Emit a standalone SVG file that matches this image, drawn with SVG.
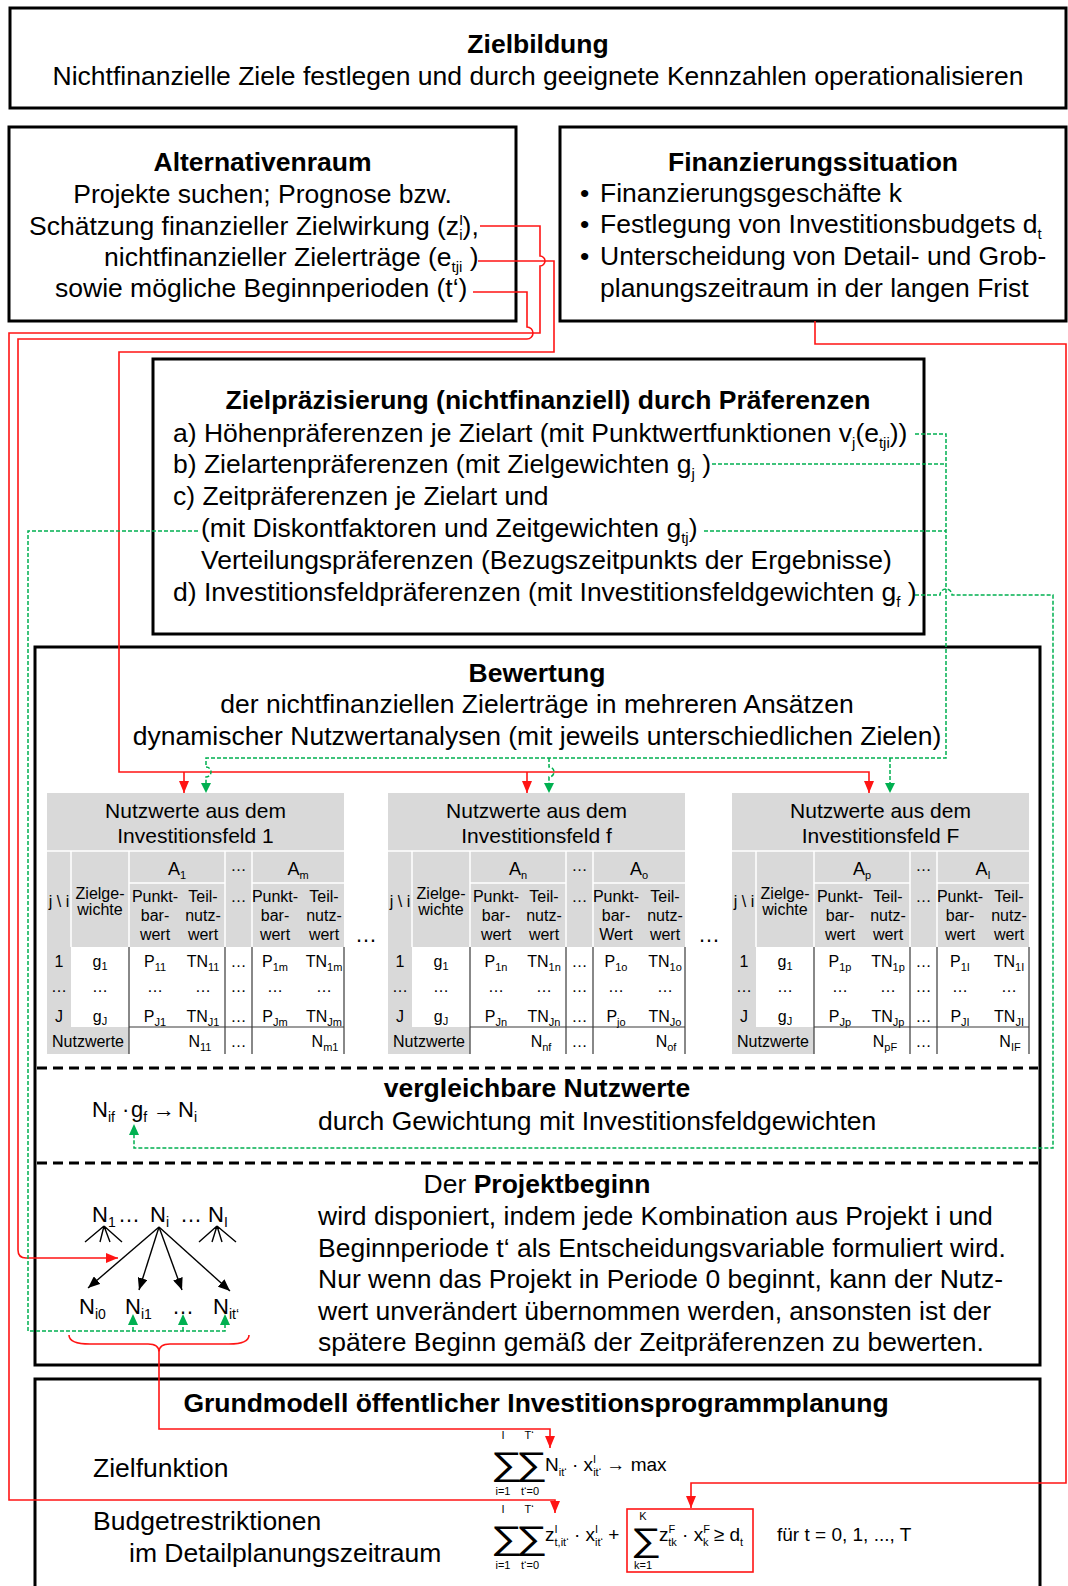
<svg xmlns="http://www.w3.org/2000/svg" width="1068" height="1586" viewBox="0 0 1068 1586">
<defs>
<style>
text{font-family:"Liberation Sans",Arial,sans-serif;fill:#000}
.t{font-size:26.5px}
.b{font-weight:bold}
.m{text-anchor:middle}
.s{font-size:15px}
.box{fill:#fff;stroke:#000;stroke-width:3}
.sep{fill:none;stroke:#000;stroke-width:3;stroke-dasharray:10 6}
.red{fill:none;stroke:#ff1414;stroke-width:1.6}
.grn{fill:none;stroke:#00b050;stroke-width:1.5;stroke-dasharray:4 2}
.blk{fill:none;stroke:#000;stroke-width:1.4}
.gray{fill:#d9d9d9}
.wl{stroke:#fff;stroke-width:1.5}
.dl{stroke:#3a3a3a;stroke-width:1.2}
.th{font-size:21px}
.tc{font-size:16px}
.ts{font-size:11px}
.ta{font-size:18px}
.f{font-size:19px}
.fs{font-size:11px}
.sum{font-size:33px}
.n{font-size:22px}
.ns{font-size:14px}
</style>
<marker id="ar" viewBox="0 0 12 10" refX="12" refY="5" markerWidth="12" markerHeight="10" markerUnits="userSpaceOnUse" orient="auto"><path d="M0,0 L12,5 L0,10 z" fill="#ff1414"/></marker>
<marker id="ab" viewBox="0 0 12 10" refX="12" refY="5" markerWidth="12" markerHeight="10" markerUnits="userSpaceOnUse" orient="auto"><path d="M0,0 L12,5 L0,10 z" fill="#000"/></marker>
</defs>
<rect width="1068" height="1586" fill="#fff"/>

<!-- Zielbildung -->
<g id="zielbildung">
<rect class="box" x="10" y="8" width="1056" height="100"/>
<text class="t b m" x="538" y="53">Zielbildung</text>
<text class="t m" x="538" y="85">Nichtfinanzielle Ziele festlegen und durch geeignete Kennzahlen operationalisieren</text>
</g>

<!-- Alternativenraum -->
<g id="alternativenraum">
<rect class="box" x="9" y="127" width="507" height="194"/>
<text class="t b m" x="262.5" y="171">Alternativenraum</text>
<text class="t m" x="262.5" y="203">Projekte suchen; Prognose bzw.</text>
<text class="t" x="29" y="235">Schätzung finanzieller Zielwirkung (z<tspan class="s" dy="-10">I</tspan><tspan class="s" dx="-4" dy="15">i</tspan><tspan dy="-5">),</tspan></text>
<text class="t" x="104" y="266">nichtfinanzieller Zielerträge (e<tspan class="s" dy="6">tji</tspan><tspan dy="-6"> )</tspan></text>
<text class="t" x="55" y="297">sowie mögliche Beginnperioden (t‘)</text>
</g>

<!-- Finanzierungssituation -->
<g id="finanzierungssituation">
<rect class="box" x="560" y="127" width="506" height="194"/>
<text class="t b m" x="813" y="171">Finanzierungssituation</text>
<text class="t" x="580" y="202">•</text>
<text class="t" x="600" y="202">Finanzierungsgeschäfte k</text>
<text class="t" x="580" y="233">•</text>
<text class="t" x="600" y="233">Festlegung von Investitionsbudgets d<tspan class="s" dy="6">t</tspan></text>
<text class="t" x="580" y="265">•</text>
<text class="t" x="600" y="265">Unterscheidung von Detail- und Grob-</text>
<text class="t" x="600" y="297">planungszeitraum in der langen Frist</text>
</g>

<!-- Zielpräzisierung -->
<g id="zielpraezisierung">
<rect class="box" x="153" y="359" width="771" height="275"/>
<text class="t b m" x="548" y="409">Zielpräzisierung (nichtfinanziell) durch Präferenzen</text>
<text class="t" x="173" y="442">a) Höhenpräferenzen je Zielart (mit Punktwertfunktionen v<tspan class="s" dy="6">j</tspan><tspan dy="-6">(e</tspan><tspan class="s" dy="6">tji</tspan><tspan dy="-6">))</tspan></text>
<text class="t" x="173" y="473">b) Zielartenpräferenzen (mit Zielgewichten g<tspan class="s" dy="6">j</tspan><tspan dy="-6"> )</tspan></text>
<text class="t" x="173" y="505">c) Zeitpräferenzen je Zielart und</text>
<text class="t" x="201" y="537">(mit Diskontfaktoren und Zeitgewichten g<tspan class="s" dy="6">tj</tspan><tspan dy="-6">)</tspan></text>
<text class="t" x="201" y="569">Verteilungspräferenzen (Bezugszeitpunkts der Ergebnisse)</text>
<text class="t" x="173" y="601">d) Investitionsfeldpräferenzen (mit Investitionsfeldgewichten g<tspan class="s" dy="6">f</tspan><tspan dy="-6"> )</tspan></text>
</g>

<!-- Bewertung with its three sections -->
<g id="bewertung">
<rect class="box" x="35" y="647" width="1005" height="718"/>
<text class="t b m" x="537" y="682">Bewertung</text>
<text class="t m" x="537" y="713">der nichtfinanziellen Zielerträge in mehreren Ansätzen</text>
<text class="t m" x="537" y="745">dynamischer Nutzwertanalysen (mit jeweils unterschiedlichen Zielen)</text>
<text class="m" font-size="22" x="366" y="942">…</text>
<text class="m" font-size="22" x="709" y="942">…</text>
<path class="sep" d="M37,1068H1038 M37,1163H1038"/>
</g>

<!-- Table: Investitionsfeld 1 -->
<g id="tabelle-feld-1" transform="translate(47,0)">
<rect class="gray" x="0" y="793" width="297" height="154"/>
<rect class="gray" x="0" y="947" width="24" height="80"/>
<rect class="gray" x="0" y="1027" width="82" height="27"/>
<path class="wl" d="M0,851H297 M24,851V947 M82,851V947 M178,851V947 M205,851V947 M82,883H178 M205,883H297"/>
<path class="dl" d="M82,947V1054 M178,947V1054 M205,947V1054 M297,947V1054 M82,1027H297"/>
<text class="th m" x="148.5" y="818">Nutzwerte aus dem</text>
<text class="th m" x="148.5" y="843">Investitionsfeld 1</text>
<text class="ta m" x="130" y="875">A<tspan class="ts" dy="4">1</tspan></text>
<text class="tc m" x="191.5" y="871">…</text>
<text class="ta m" x="251" y="875">A<tspan class="ts" dy="4">m</tspan></text>
<text class="tc m" x="12" y="907">j \ i</text>
<text class="tc m" x="53" y="899">Zielge-</text><text class="tc m" x="53" y="915">wichte</text>
<text class="tc m" x="108" y="902">Punkt-</text><text class="tc m" x="108" y="921">bar-</text><text class="tc m" x="108" y="940">wert</text>
<text class="tc m" x="156" y="902">Teil-</text><text class="tc m" x="156" y="921">nutz-</text><text class="tc m" x="156" y="940">wert</text>
<text class="tc m" x="191.5" y="902">…</text>
<text class="tc m" x="228" y="902">Punkt-</text><text class="tc m" x="228" y="921">bar-</text><text class="tc m" x="228" y="940">wert</text>
<text class="tc m" x="277" y="902">Teil-</text><text class="tc m" x="277" y="921">nutz-</text><text class="tc m" x="277" y="940">wert</text>
<text class="tc m" x="12" y="967">1</text>
<text class="tc m" x="53" y="967">g<tspan class="ts" dy="3">1</tspan></text>
<text class="tc m" x="108" y="967">P<tspan class="ts" dy="4">11</tspan></text>
<text class="tc m" x="156" y="967">TN<tspan class="ts" dy="4">11</tspan></text>
<text class="tc m" x="191.5" y="967">…</text>
<text class="tc m" x="228" y="967">P<tspan class="ts" dy="4">1m</tspan></text>
<text class="tc m" x="277" y="967">TN<tspan class="ts" dy="4">1m</tspan></text>
<text class="tc m" x="12" y="992">…</text><text class="tc m" x="53" y="992">…</text><text class="tc m" x="108" y="992">…</text><text class="tc m" x="156" y="992">…</text><text class="tc m" x="191.5" y="992">…</text><text class="tc m" x="228" y="992">…</text><text class="tc m" x="277" y="992">…</text>
<text class="tc m" x="12" y="1022">J</text>
<text class="tc m" x="53" y="1022">g<tspan class="ts" dy="3">J</tspan></text>
<text class="tc m" x="108" y="1022">P<tspan class="ts" dy="4">J1</tspan></text>
<text class="tc m" x="156" y="1022">TN<tspan class="ts" dy="4">J1</tspan></text>
<text class="tc m" x="191.5" y="1022">…</text>
<text class="tc m" x="228" y="1022">P<tspan class="ts" dy="4">Jm</tspan></text>
<text class="tc m" x="277" y="1022">TN<tspan class="ts" dy="4">Jm</tspan></text>
<text class="tc m" x="41" y="1047">Nutzwerte</text>
<text class="tc m" x="153" y="1047">N<tspan class="ts" dy="4">11</tspan></text>
<text class="tc m" x="191.5" y="1047">…</text>
<text class="tc m" x="278" y="1047">N<tspan class="ts" dy="4">m1</tspan></text>
</g>

<!-- Table: Investitionsfeld f -->
<g id="tabelle-feld-f" transform="translate(388,0)">
<rect class="gray" x="0" y="793" width="297" height="154"/>
<rect class="gray" x="0" y="947" width="24" height="80"/>
<rect class="gray" x="0" y="1027" width="82" height="27"/>
<path class="wl" d="M0,851H297 M24,851V947 M82,851V947 M178,851V947 M205,851V947 M82,883H178 M205,883H297"/>
<path class="dl" d="M82,947V1054 M178,947V1054 M205,947V1054 M297,947V1054 M82,1027H297"/>
<text class="th m" x="148.5" y="818">Nutzwerte aus dem</text>
<text class="th m" x="148.5" y="843">Investitionsfeld f</text>
<text class="ta m" x="130" y="875">A<tspan class="ts" dy="4">n</tspan></text>
<text class="tc m" x="191.5" y="871">…</text>
<text class="ta m" x="251" y="875">A<tspan class="ts" dy="4">o</tspan></text>
<text class="tc m" x="12" y="907">j \ i</text>
<text class="tc m" x="53" y="899">Zielge-</text><text class="tc m" x="53" y="915">wichte</text>
<text class="tc m" x="108" y="902">Punkt-</text><text class="tc m" x="108" y="921">bar-</text><text class="tc m" x="108" y="940">wert</text>
<text class="tc m" x="156" y="902">Teil-</text><text class="tc m" x="156" y="921">nutz-</text><text class="tc m" x="156" y="940">wert</text>
<text class="tc m" x="191.5" y="902">…</text>
<text class="tc m" x="228" y="902">Punkt-</text><text class="tc m" x="228" y="921">bar-</text><text class="tc m" x="228" y="940">Wert</text>
<text class="tc m" x="277" y="902">Teil-</text><text class="tc m" x="277" y="921">nutz-</text><text class="tc m" x="277" y="940">wert</text>
<text class="tc m" x="12" y="967">1</text>
<text class="tc m" x="53" y="967">g<tspan class="ts" dy="3">1</tspan></text>
<text class="tc m" x="108" y="967">P<tspan class="ts" dy="4">1n</tspan></text>
<text class="tc m" x="156" y="967">TN<tspan class="ts" dy="4">1n</tspan></text>
<text class="tc m" x="191.5" y="967">…</text>
<text class="tc m" x="228" y="967">P<tspan class="ts" dy="4">1o</tspan></text>
<text class="tc m" x="277" y="967">TN<tspan class="ts" dy="4">1o</tspan></text>
<text class="tc m" x="12" y="992">…</text><text class="tc m" x="53" y="992">…</text><text class="tc m" x="108" y="992">…</text><text class="tc m" x="156" y="992">…</text><text class="tc m" x="191.5" y="992">…</text><text class="tc m" x="228" y="992">…</text><text class="tc m" x="277" y="992">…</text>
<text class="tc m" x="12" y="1022">J</text>
<text class="tc m" x="53" y="1022">g<tspan class="ts" dy="3">J</tspan></text>
<text class="tc m" x="108" y="1022">P<tspan class="ts" dy="4">Jn</tspan></text>
<text class="tc m" x="156" y="1022">TN<tspan class="ts" dy="4">Jn</tspan></text>
<text class="tc m" x="191.5" y="1022">…</text>
<text class="tc m" x="228" y="1022">P<tspan class="ts" dy="4">jo</tspan></text>
<text class="tc m" x="277" y="1022">TN<tspan class="ts" dy="4">Jo</tspan></text>
<text class="tc m" x="41" y="1047">Nutzwerte</text>
<text class="tc m" x="153" y="1047">N<tspan class="ts" dy="4">nf</tspan></text>
<text class="tc m" x="191.5" y="1047">…</text>
<text class="tc m" x="278" y="1047">N<tspan class="ts" dy="4">of</tspan></text>
</g>

<!-- Table: Investitionsfeld F -->
<g id="tabelle-feld-F" transform="translate(732,0)">
<rect class="gray" x="0" y="793" width="297" height="154"/>
<rect class="gray" x="0" y="947" width="24" height="80"/>
<rect class="gray" x="0" y="1027" width="82" height="27"/>
<path class="wl" d="M0,851H297 M24,851V947 M82,851V947 M178,851V947 M205,851V947 M82,883H178 M205,883H297"/>
<path class="dl" d="M82,947V1054 M178,947V1054 M205,947V1054 M297,947V1054 M82,1027H297"/>
<text class="th m" x="148.5" y="818">Nutzwerte aus dem</text>
<text class="th m" x="148.5" y="843">Investitionsfeld F</text>
<text class="ta m" x="130" y="875">A<tspan class="ts" dy="4">p</tspan></text>
<text class="tc m" x="191.5" y="871">…</text>
<text class="ta m" x="251" y="875">A<tspan class="ts" dy="4">I</tspan></text>
<text class="tc m" x="12" y="907">j \ i</text>
<text class="tc m" x="53" y="899">Zielge-</text><text class="tc m" x="53" y="915">wichte</text>
<text class="tc m" x="108" y="902">Punkt-</text><text class="tc m" x="108" y="921">bar-</text><text class="tc m" x="108" y="940">wert</text>
<text class="tc m" x="156" y="902">Teil-</text><text class="tc m" x="156" y="921">nutz-</text><text class="tc m" x="156" y="940">wert</text>
<text class="tc m" x="191.5" y="902">…</text>
<text class="tc m" x="228" y="902">Punkt-</text><text class="tc m" x="228" y="921">bar-</text><text class="tc m" x="228" y="940">wert</text>
<text class="tc m" x="277" y="902">Teil-</text><text class="tc m" x="277" y="921">nutz-</text><text class="tc m" x="277" y="940">wert</text>
<text class="tc m" x="12" y="967">1</text>
<text class="tc m" x="53" y="967">g<tspan class="ts" dy="3">1</tspan></text>
<text class="tc m" x="108" y="967">P<tspan class="ts" dy="4">1p</tspan></text>
<text class="tc m" x="156" y="967">TN<tspan class="ts" dy="4">1p</tspan></text>
<text class="tc m" x="191.5" y="967">…</text>
<text class="tc m" x="228" y="967">P<tspan class="ts" dy="4">1I</tspan></text>
<text class="tc m" x="277" y="967">TN<tspan class="ts" dy="4">1I</tspan></text>
<text class="tc m" x="12" y="992">…</text><text class="tc m" x="53" y="992">…</text><text class="tc m" x="108" y="992">…</text><text class="tc m" x="156" y="992">…</text><text class="tc m" x="191.5" y="992">…</text><text class="tc m" x="228" y="992">…</text><text class="tc m" x="277" y="992">…</text>
<text class="tc m" x="12" y="1022">J</text>
<text class="tc m" x="53" y="1022">g<tspan class="ts" dy="3">J</tspan></text>
<text class="tc m" x="108" y="1022">P<tspan class="ts" dy="4">Jp</tspan></text>
<text class="tc m" x="156" y="1022">TN<tspan class="ts" dy="4">Jp</tspan></text>
<text class="tc m" x="191.5" y="1022">…</text>
<text class="tc m" x="228" y="1022">P<tspan class="ts" dy="4">JI</tspan></text>
<text class="tc m" x="277" y="1022">TN<tspan class="ts" dy="4">JI</tspan></text>
<text class="tc m" x="41" y="1047">Nutzwerte</text>
<text class="tc m" x="153" y="1047">N<tspan class="ts" dy="4">pF</tspan></text>
<text class="tc m" x="191.5" y="1047">…</text>
<text class="tc m" x="278" y="1047">N<tspan class="ts" dy="4">IF</tspan></text>
</g>

<!-- Vergleichbare Nutzwerte -->
<g id="vergleichbare-nutzwerte">
<text class="t b m" x="537" y="1097">vergleichbare Nutzwerte</text>
<text class="t" x="318" y="1130">durch Gewichtung mit Investitionsfeldgewichten</text>
<text class="n" x="92" y="1117">N<tspan class="ns" dy="5">if</tspan><tspan dy="-5" x="122">·</tspan><tspan x="131">g</tspan><tspan class="ns" dy="5">f</tspan><tspan dy="-5" x="153">→</tspan><tspan x="178">N</tspan><tspan class="ns" dy="5">i</tspan></text>
</g>

<!-- Projektbeginn -->
<g id="projektbeginn">
<text class="t m" x="537" y="1193">Der <tspan class="b">Projektbeginn</tspan></text>
<text class="t" x="318" y="1225">wird disponiert, indem jede Kombination aus Projekt i und</text>
<text class="t" x="318" y="1257">Beginnperiode t‘ als Entscheidungsvariable formuliert wird.</text>
<text class="t" x="318" y="1288">Nur wenn das Projekt in Periode 0 beginnt, kann der Nutz-</text>
<text class="t" x="318" y="1320">wert unverändert übernommen werden, ansonsten ist der</text>
<text class="t" x="318" y="1351">spätere Beginn gemäß der Zeitpräferenzen zu bewerten.</text>
<text class="n" x="92" y="1222">N<tspan class="ns" dy="5">1</tspan></text>
<text class="n" x="118" y="1222">…</text>
<text class="n" x="150" y="1222">N<tspan class="ns" dy="5">i</tspan></text>
<text class="n" x="180" y="1222">…</text>
<text class="n" x="208" y="1222">N<tspan class="ns" dy="5">I</tspan></text>
<path class="blk" d="M104,1226L85,1242 M104,1226L100,1242 M104,1226L110,1242 M104,1226L122,1242 M217,1226L199,1242 M217,1226L212,1242 M217,1226L222,1242 M217,1226L236,1242"/>
<path class="blk" marker-end="url(#ab)" d="M159,1227L88,1288"/>
<path class="blk" marker-end="url(#ab)" d="M159,1227L139,1290"/>
<path class="blk" marker-end="url(#ab)" d="M159,1227L182,1290"/>
<path class="blk" marker-end="url(#ab)" d="M159,1227L230,1291"/>
<text class="n" x="79" y="1314">N<tspan class="ns" dy="5">i0</tspan></text>
<text class="n" x="125" y="1314">N<tspan class="ns" dy="5">i1</tspan></text>
<text class="n" x="172" y="1314">…</text>
<text class="n" x="213" y="1314">N<tspan class="ns" dy="5">it‘</tspan></text>
<path class="red" d="M69,1335Q69,1344 90,1344H148Q159,1344 159,1352Q159,1344 170,1344H229Q249,1344 249,1335"/>
</g>

<!-- Grundmodell -->
<g id="grundmodell">
<rect class="box" x="35" y="1379" width="1005" height="240"/>
<text class="t b m" x="536" y="1412">Grundmodell öffentlicher Investitionsprogrammplanung</text>
<text class="t" x="93" y="1477">Zielfunktion</text>
<text class="t" x="93" y="1530">Budgetrestriktionen</text>
<text class="t" x="129" y="1562">im Detailplanungszeitraum</text>
<!-- objective function: double sum over projects and start periods -->
<text class="sum" transform="translate(491,1475) scale(1.35,1)">∑<tspan x="18.5">∑</tspan></text>
<text class="fs m" x="503" y="1439">I</text><text class="fs m" x="529" y="1439">T‘</text>
<text class="fs m" x="503" y="1495">i=1</text><text class="fs m" x="530" y="1495">t‘=0</text>
<text class="f" x="545" y="1471">N<tspan class="fs" dy="5">it‘</tspan><tspan dy="-5"> · x</tspan><tspan class="fs" dy="-8">I</tspan><tspan class="fs" dx="-3" dy="13">it‘</tspan><tspan dy="-5"> → max</tspan></text>
<!-- budget constraint -->
<text class="sum" transform="translate(491,1549) scale(1.35,1)">∑<tspan x="18.5">∑</tspan></text>
<text class="fs m" x="503" y="1513">I</text><text class="fs m" x="529" y="1513">T‘</text>
<text class="fs m" x="503" y="1569">i=1</text><text class="fs m" x="530" y="1569">t‘=0</text>
<text class="f" x="545" y="1541">z<tspan class="fs" dy="-8">I</tspan><tspan class="fs" dx="-3" dy="13">t,it‘</tspan><tspan dy="-5"> · x</tspan><tspan class="fs" dy="-8">I</tspan><tspan class="fs" dx="-3" dy="13">it‘</tspan><tspan dy="-5"> +</tspan></text>
<rect x="627" y="1509" width="126" height="63" fill="none" stroke="#ff1414" stroke-width="1.6"/>
<text class="sum" transform="translate(631,1551) scale(1.3,1)">∑</text>
<text class="fs m" x="643" y="1520">K</text><text class="fs m" x="643" y="1569">k=1</text>
<text class="f" x="659" y="1541">z<tspan class="fs" dy="-8">F</tspan><tspan class="fs" dx="-7" dy="13">tk</tspan><tspan dy="-5"> · x</tspan><tspan class="fs" dy="-8">F</tspan><tspan class="fs" dx="-7" dy="13">k</tspan><tspan dy="-5"> ≥ d</tspan><tspan class="fs" dy="5">t</tspan></text>
<text class="f" x="777" y="1541">für t = 0, 1, ..., T</text>
</g>

<!-- Connectors -->
<g id="connectors">
<!-- red: financial target effect to budget constraint -->
<path class="red" marker-end="url(#ar)" d="M480,226H540V256A5,5 0 0 1 540,266V333H9V1500H555V1513"/>
<!-- red: start periods to project start -->
<path class="red" marker-end="url(#ar)" d="M473,292H527V327A6,6 0 0 1 527,339H18V1250Q18,1258 26,1258H118"/>
<!-- red: non-financial yields to the three tables -->
<path class="red" marker-end="url(#ar)" d="M478,261H554V352H119V772H869V793"/>
<path class="red" marker-end="url(#ar)" d="M184,772V793"/>
<path class="red" marker-end="url(#ar)" d="M527,772V793"/>
<!-- red: financing to right-hand budget term -->
<path class="red" marker-end="url(#ar)" d="M815,321V344H1066V1483H691V1508"/>
<!-- red: brace to objective function -->
<path class="red" marker-end="url(#ar)" d="M159,1352V1429H550V1448"/>
<!-- green: preferences to tables -->
<path class="grn" d="M915,434H946V758H206V767A5,5 0 0 1 206,777V785"/>
<path class="grn" d="M712,464H946"/>
<path class="grn" d="M704,531H946"/>
<path class="grn" d="M549,758V767A5,5 0 0 1 549,777V785"/>
<path class="grn" d="M890,758V785"/>
<!-- green: field weights to comparable values -->
<path class="grn" d="M915,595H940A6,6 0 0 1 952,595H1053V1148H134V1134"/>
<!-- green: time weights to start variants -->
<path class="grn" d="M198,531H28V1331H225V1323"/>
<path class="grn" d="M133,1331V1323"/>
<path class="grn" d="M183,1331V1323"/>
<g fill="#00b050">
<path d="M201,783L211,783L206,793z"/>
<path d="M544,783L554,783L549,793z"/>
<path d="M885,783L895,783L890,793z"/>
<path d="M129,1135L139,1135L134,1124z"/>
<path d="M128,1325L138,1325L133,1314z"/>
<path d="M178,1325L188,1325L183,1314z"/>
<path d="M220,1325L230,1325L225,1314z"/>
</g>
</g>
</svg>
